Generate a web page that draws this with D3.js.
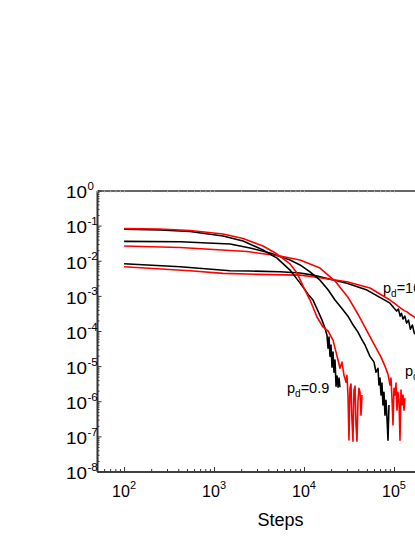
<!DOCTYPE html>
<html><head><meta charset="utf-8">
<script src="https://cdn.jsdelivr.net/npm/d3@7"></script>
<style>
html,body{margin:0;padding:0;background:#fff;}
svg{display:block;font-family:Arial,"Liberation Sans",sans-serif;}
</style></head>
<body>
<svg id="chart" width="415" height="537"></svg>
<script>
// ---- data ----
const xDomain = [50, 6e5];
const yDomain = [1e-8, 1];
const xMajorTicks = [1e2, 1e3, 1e4, 1e5];
const xTickExponents = ["2", "3", "4", "5"];
const yMajorTicks = [1e0, 1e-1, 1e-2, 1e-3, 1e-4, 1e-5, 1e-6, 1e-7, 1e-8];
const yTickExponents = ["0", "-1", "-2", "-3", "-4", "-5", "-6", "-7", "-8"];
const xTitle = "Steps";

// pd = 0.9 (top pair)
const pd09BlackSteps = [100, 251, 541, 1259, 2100, 3500, 5012, 6990, 8360, 9750, 11070, 12590, 14300, 15850, 17100, 18000, 18500, 18960, 19440, 19950, 20460, 21000, 21540, 22100, 22700, 23300, 23900, 24500, 25100];
const pd09BlackVals = [0.0785, 0.075, 0.068, 0.0506, 0.0364, 0.0202, 0.0119, 0.00543, 0.0030, 0.00178, 0.00112, 7.6e-4, 3.7e-4, 2.04e-4, 1.2e-4, 7.6e-5, 3.25e-5, 6.7e-5, 1.9e-5, 4e-5, 9.3e-6, 2.5e-5, 6.7e-6, 1.5e-5, 2.7e-6, 5.2e-6, 2.5e-6, 4.6e-6, 2.5e-6];
const pd09RedSteps = [100, 251, 541, 1259, 2100, 3500, 5012, 6990, 8360, 10000, 11660, 13940, 16250, 18480, 21000, 22700, 23870, 25100, 26400, 27800, 29300, 30000, 30800, 31600, 32400, 33300, 34100, 35000, 35900, 36900, 37800, 38800, 39800, 40800, 41900, 43000, 44100];
const pd09RedVals = [0.082, 0.080, 0.0725, 0.0576, 0.0429, 0.0263, 0.0155, 0.0081, 4.46e-3, 1.67e-3, 7.6e-4, 2.5e-4, 1.3e-4, 1.0e-4, 5.5e-5, 2.5e-5, 1.5e-5, 8.7e-6, 1.3e-5, 5.5e-6, 3.5e-6, 5.5e-6, 1.5e-6, 7.9e-8, 2.35e-6, 3.1e-6, 2.9e-7, 7.3e-8, 2.1e-6, 2.7e-6, 2.1e-7, 7.3e-8, 1.07e-6, 2.35e-6, 1.8e-6, 4e-7, 1.5e-6];

// middle pair
const pdMidBlackSteps = [100, 419, 1506, 2512, 4190, 6990, 9030, 11660, 15060, 18500, 22100, 26000, 30800, 35000, 39800, 43500, 47600, 54100, 60000, 63100, 66400, 68100, 69900, 71700, 73500, 75400, 77400, 79400, 81500, 83600, 85800, 88000];
const pdMidBlackVals = [0.0357, 0.0348, 0.030, 0.023, 0.0166, 0.0105, 0.0076, 4.8e-3, 2.8e-3, 1.5e-3, 7.6e-4, 4.6e-4, 2.65e-4, 1.5e-4, 9.3e-5, 6.0e-5, 4e-5, 1.9e-5, 1.3e-5, 6.7e-6, 8.7e-6, 2.9e-6, 4.6e-6, 1.5e-6, 3.3e-6, 7.8e-7, 1.8e-6, 4e-7, 1.07e-6, 3.3e-7, 7.8e-8, 7.8e-7];
const pdMidRedSteps = [100, 419, 2330, 5410, 9030, 15060, 22100, 30800, 39800, 48800, 60000, 71700, 79400, 85800, 90300, 92600, 95000, 97500, 100000, 102600, 105200, 108000, 110700, 113600, 116600, 119600, 122700, 125900, 129200, 132500];
const pdMidRedVals = [0.0263, 0.0238, 0.0183, 0.0136, 0.0105, 6.2e-3, 2.64e-3, 9.2e-4, 3.0e-4, 1.13e-4, 4.2e-5, 1.8e-5, 1.0e-5, 5.9e-6, 2.9e-6, 4.6e-6, 1.23e-6, 2.1e-7, 2.35e-6, 1.5e-6, 3.3e-6, 5.6e-7, 1.8e-6, 1.07e-6, 7.8e-8, 2.1e-6, 7.8e-7, 1.5e-6, 5.6e-7, 1.23e-6];

// pd = 1.0 (bottom pair at start)
const pd10BlackSteps = [100, 419, 1506, 2512, 5410, 9030, 12590, 30000, 50100, 90300, 100000, 107000, 112000, 117000, 121000, 126000, 132000, 138000, 145000, 152000, 160000, 168000, 180000, 200000, 250000];
const pd10BlackVals = [8.2e-3, 6.75e-3, 5.19e-3, 5.09e-3, 4.86e-3, 4.47e-3, 3.9e-3, 2.3e-3, 1.46e-3, 6.2e-4, 4.5e-4, 3.7e-4, 4.2e-4, 2.66e-4, 3.2e-4, 2.2e-4, 2.66e-4, 1.68e-4, 2.04e-4, 1.13e-4, 1.48e-4, 8.7e-5, 7.5e-5, 5.5e-5, 2.9e-5];
const pd10RedSteps = [100, 541, 1259, 3000, 9030, 12590, 30000, 54100, 90300, 100000, 110000, 120000, 130000, 139400, 150000, 165000, 194500, 250000];
const pd10RedVals = [6.75e-3, 5.19e-3, 4.37e-3, 4.1e-3, 3.9e-3, 3.5e-3, 2.52e-3, 1.67e-3, 7.6e-4, 6.3e-4, 5.2e-4, 4.4e-4, 3.8e-4, 3.5e-4, 3.0e-4, 2.6e-4, 1.8e-4, 1.2e-4];

const annotations = [
  {label: "0.9",  step: 6470,   value: 1.7e-6},
  {label: "10",   step: 75500,  value: 1.2e-3},
  {label: "0.95", step: 132500, value: 5.2e-6}
];

(function(){
// ---- drawing ----
const svg = d3.select("#chart");
const mLeft = 97, mRight = 464, mTop = 190.5, mBottom = 471.5;
const x = d3.scaleLog().domain(xDomain).range([mLeft, mRight]);
const y = d3.scaleLog().domain(yDomain).range([mBottom, mTop]);

const series = [
  {steps: pd10BlackSteps, vals: pd10BlackVals, color: "#000"},
  {steps: pd10RedSteps,   vals: pd10RedVals,   color: "#ff0000"},
  {steps: pdMidBlackSteps, vals: pdMidBlackVals, color: "#000"},
  {steps: pdMidRedSteps,   vals: pdMidRedVals,   color: "#ff0000"},
  {steps: pd09BlackSteps, vals: pd09BlackVals, color: "#000"},
  {steps: pd09RedSteps,   vals: pd09RedVals,   color: "#ff0000"}
];

svg.append("clipPath").attr("id","clip").append("rect")
  .attr("x", mLeft).attr("y", mTop).attr("width", mRight-mLeft).attr("height", mBottom-mTop);

const line = d3.line().x(d => x(d[0])).y(d => y(d[1]));
const plot = svg.append("g").attr("clip-path","url(#clip)");
series.forEach(s => {
  plot.append("path")
    .datum(s.steps.map((st,i) => [st, s.vals[i]]))
    .attr("d", line)
    .attr("fill","none")
    .attr("stroke", s.color)
    .attr("stroke-width", 1.6)
    .attr("stroke-linejoin","round");
});

function minors(dom){
  const out=[];
  const lo=Math.floor(Math.log10(dom[0])), hi=Math.ceil(Math.log10(dom[1]));
  for(let e=lo;e<hi;e++) for(let m=2;m<=9;m++){const v=m*Math.pow(10,e); if(v>=dom[0]&&v<=dom[1]) out.push(v);}
  return out;
}
const axisColor = "#333";
function styleAxis(g){
  g.select(".domain").attr("stroke", axisColor).attr("stroke-width", 1.6);
  g.selectAll(".tick line").attr("stroke", axisColor).attr("stroke-width", 1);
  g.selectAll(".tick text").remove();
}

svg.append("g").attr("transform",`translate(${mLeft},0)`)
  .call(d3.axisLeft(y).tickValues(minors(yDomain)).tickSizeInner(-2.5).tickSizeOuter(0).tickFormat(""))
  .call(styleAxis);
svg.append("g").attr("transform",`translate(${mLeft},0)`)
  .call(d3.axisLeft(y).tickValues(yMajorTicks).tickSizeInner(-4.5).tickSizeOuter(0).tickFormat(""))
  .call(styleAxis);
svg.append("g").attr("transform",`translate(0,${mBottom})`)
  .call(d3.axisBottom(x).tickValues(minors(xDomain)).tickSizeInner(-2.5).tickSizeOuter(0).tickFormat(""))
  .call(styleAxis);
svg.append("g").attr("transform",`translate(0,${mBottom})`)
  .call(d3.axisBottom(x).tickValues(xMajorTicks).tickSizeInner(-4.5).tickSizeOuter(0).tickFormat(""))
  .call(styleAxis);
const topAx = svg.append("g").attr("transform",`translate(0,${mTop})`)
  .call(d3.axisTop(x).tickValues(minors(xDomain).concat(xMajorTicks)).tickSizeInner(-2).tickSizeOuter(0).tickFormat(""));
topAx.select(".domain").attr("stroke", axisColor).attr("stroke-width", 1.6);
topAx.selectAll(".tick line").attr("stroke", "#bbb").attr("stroke-width", 0.8);
topAx.selectAll(".tick text").remove();
svg.append("g").attr("transform",`translate(${mRight},0)`)
  .call(d3.axisRight(y).tickValues(yMajorTicks).tickSizeInner(-4.5).tickSizeOuter(0).tickFormat(""))
  .call(styleAxis);

const yl = svg.append("g");
yMajorTicks.forEach((v,i) => {
  const ty = y(v);
  yl.append("text").attr("x", 66).attr("y", ty + 7.8)
    .attr("font-size", 16.5).attr("textLength", 21).attr("lengthAdjust","spacingAndGlyphs")
    .attr("fill","#000").text("10");
  yl.append("text").attr("x", 87.5).attr("y", ty - 0.5)
    .attr("text-anchor","start").attr("font-size", 11.5).attr("fill","#000").text(yTickExponents[i]);
});
const xl = svg.append("g");
xMajorTicks.forEach((v,i) => {
  const t = xl.append("text").attr("x", x(v)).attr("y", 497)
    .attr("text-anchor","middle").attr("font-size", 16).attr("fill","#000");
  t.append("tspan").text("10");
  t.append("tspan").attr("dy", -8).attr("font-size", 11).text(xTickExponents[i]);
});
svg.append("text").attr("x", (mLeft+mRight)/2).attr("y", 526)
  .attr("text-anchor","middle").attr("font-size", 18).attr("fill","#000").text(xTitle);

annotations.forEach(a => {
  const t = svg.append("text").attr("x", x(a.step)).attr("y", y(a.value))
    .attr("font-size", 14.5).attr("fill","#000");
  t.append("tspan").text("p");
  t.append("tspan").attr("dy", 4).attr("font-size", 10).text("d");
  t.append("tspan").attr("dy", -4).text("=" + a.label);
});
})();
</script>
</body></html>
